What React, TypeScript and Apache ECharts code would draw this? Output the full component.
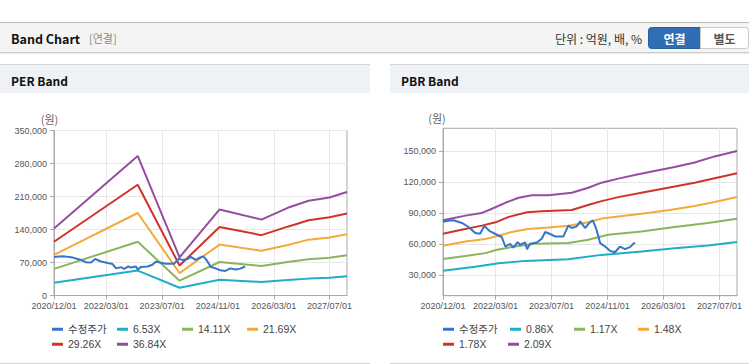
import React, { useEffect, useRef } from 'react';
import * as echarts from 'echarts';

const FONT = "Arial, 'Liberation Sans', 'Noto Sans CJK KR', sans-serif";
const KFONT = "'Noto Sans CJK KR', Arial, 'Liberation Sans', sans-serif";

// ---- axis ----
const xStart = '2020/12/01';
const xEnd = '2027/12/01';
const xTickLabels = ['2020/12/01', '2022/03/01', '2023/07/01', '2024/11/01', '2026/03/01', '2027/07/01'];
const perYMax = 350000;
const perYStep = 70000;
const pbrYMin = 10000;
const pbrYMax = 172000;
const pbrYTicks = [30000, 60000, 90000, 120000, 150000];

// ---- adjusted price (수정주가) ----
const priceDates = ['2020/12/01', '2021/01/15', '2021/03/01', '2021/05/13', '2021/07/10', '2021/09/07', '2021/10/19', '2021/11/25', '2022/01/16', '2022/03/13', '2022/04/25', '2022/05/25', '2022/07/07', '2022/08/04', '2022/09/10', '2022/10/01', '2022/11/16', '2022/12/01', '2022/12/28', '2023/02/25', '2023/04/07', '2023/05/07', '2023/06/19', '2023/08/01', '2023/10/13', '2023/11/25', '2023/12/25', '2024/02/07', '2024/03/07', '2024/04/19', '2024/05/25', '2024/06/25', '2024/07/22', '2024/08/13', '2024/08/28', '2024/10/10', '2024/11/22', '2025/01/04', '2025/02/19', '2025/04/01', '2025/05/13', '2025/06/25'];
const priceValues = [81500, 82500, 83000, 80400, 76500, 70600, 70000, 77500, 72200, 69000, 66800, 57600, 60200, 56600, 61900, 59300, 61500, 55000, 60200, 61500, 65100, 71600, 69700, 67400, 67400, 77800, 75500, 77100, 82000, 75500, 80400, 83000, 75500, 67400, 60900, 57600, 53400, 52100, 57600, 55000, 57000, 61500];

// ---- PER band ----
const perDates = ['2020/12/01', '2022/12/01', '2023/12/01', '2024/11/15', '2025/11/15', '2026/07/01', '2027/01/01', '2027/07/01', '2027/12/01'];
const per653 = [27000, 52800, 16500, 33500, 28800, 32800, 35800, 37500, 41000];
const per1411 = [56400, 114000, 31500, 71000, 62500, 71000, 77000, 80000, 85300];
const per2169 = [86000, 175000, 47500, 108000, 95000, 107000, 118500, 123000, 129700];
const per2926 = [114000, 235000, 63500, 145500, 128000, 146000, 159500, 166000, 174000];
const per3684 = [142300, 296000, 81000, 182500, 161000, 186000, 201000, 208000, 219600];

// ---- PBR band ----
const pbr086: [string, number][] = [['2020/12/01', 34200], ['2021/09/07', 38100], ['2022/03/28', 41400], ['2022/11/16', 43700], ['2023/11/25', 45300], ['2024/09/10', 49500], ['2025/08/22', 52700], ['2026/06/07', 56000], ['2027/03/22', 58600], ['2027/12/01', 62000]];
const pbr117: [string, number][] = [['2020/12/01', 45600], ['2021/06/13', 48500], ['2021/12/04', 51200], ['2022/03/13', 54400], ['2022/08/19', 57600], ['2023/02/10', 60200], ['2023/11/25', 60900], ['2024/05/16', 64100], ['2024/11/07', 69000], ['2025/08/22', 72200], ['2026/06/07', 76500], ['2027/03/22', 80400], ['2027/12/01', 84500]];
const pbr148: [string, number][] = [['2020/12/01', 58300], ['2021/06/13', 62500], ['2021/12/04', 64800], ['2022/03/28', 68000], ['2022/07/19', 71600], ['2022/12/10', 74600], ['2023/06/04', 76100], ['2023/11/25', 77800], ['2024/05/16', 81000], ['2024/09/10', 84600], ['2025/08/22', 89200], ['2026/04/10', 92700], ['2026/11/28', 96800], ['2027/05/19', 100600], ['2027/12/01', 105600]];
const pbr178: [string, number][] = [['2020/12/01', 70000], ['2021/05/10', 73900], ['2021/11/04', 77800], ['2022/03/01', 81000], ['2022/06/25', 86300], ['2022/12/01', 90800], ['2023/04/07', 91700], ['2023/12/25', 93000], ['2024/05/28', 98200], ['2024/09/10', 101500], ['2025/02/04', 105400], ['2025/08/22', 109600], ['2026/04/10', 114500], ['2026/11/28', 119400], ['2027/05/19', 123600], ['2027/12/01', 128500]];
const pbr209: [string, number][] = [['2020/12/01', 83000], ['2021/06/13', 87500], ['2021/11/04', 90100], ['2022/01/16', 93400], ['2022/05/25', 99900], ['2022/09/19', 104800], ['2023/01/13', 107300], ['2023/06/04', 107300], ['2023/12/25', 109600], ['2024/05/16', 114500], ['2024/09/10', 119400], ['2025/02/04', 123300], ['2025/07/25', 127500], ['2026/01/16', 131400], ['2026/06/07', 134600], ['2026/11/28', 138900], ['2027/05/19', 144800], ['2027/12/01', 150000]];

const COLORS = {
  price: '#3674c8',
  c1: '#1eafc6',
  c2: '#8cb45a',
  c3: '#f6a93b',
  c4: '#d0332b',
  c5: '#934f9e',
};

function toM(s: string): number {
  const [y, m, d] = s.split('/').map(Number);
  return (y - 2020) * 12 + (m - 12) + (d - 1) / 30;
}

const xTicks = xTickLabels.map(toM);

function xAxisCfg(gridIndex: number) {
  return {
    type: 'value',
    gridIndex,
    min: toM(xStart),
    max: toM(xEnd),
    axisLine: { show: true, lineStyle: { color: '#aaaaaa' } },
    axisTick: { show: true, length: 4, customValues: xTicks, lineStyle: { color: '#aaaaaa' } },
    axisLabel: {
      customValues: xTicks,
      fontSize: 9,
      color: '#555555',
      fontFamily: FONT,
      margin: 6,
      formatter: (v: number) => {
        let best = 0;
        xTicks.forEach((t, i) => { if (Math.abs(t - v) < Math.abs(xTicks[best] - v)) best = i; });
        return xTickLabels[best];
      },
    },
    splitLine: { show: true, lineStyle: { color: '#e6e6e6' } },
  };
}

const fmt = (v: number) => String(v).replace(/\B(?=(\d{3})+(?!\d))/g, ',');

function lineSeries(name: string, color: string, data: [number, number][], xi: number, z = 2) {
  return {
    type: 'line',
    name,
    xAxisIndex: xi,
    yAxisIndex: xi,
    data,
    showSymbol: false,
    symbol: 'none',
    z,
    lineStyle: { width: 2, color },
    itemStyle: { color },
    emphasis: { disabled: true },
  };
}

const pairs = (dates: string[], vals: number[]): [number, number][] => dates.map((d, i) => [toM(d), vals[i]]);
const tpairs = (arr: [string, number][]): [number, number][] => arr.map(([d, v]) => [toM(d), v]);

function legendItem(name: string, left: number, top: number) {
  return {
    data: [name],
    left,
    top,
    padding: 0,
    itemWidth: 11,
    itemHeight: 3,
    icon: 'rect',
    selectedMode: false,
    textStyle: { fontSize: 10.5, color: '#444444', fontFamily: FONT },
  };
}

export default function App() {
  const ref = useRef<HTMLDivElement>(null);
  useEffect(() => {
    if (!ref.current) return;
    const chart = echarts.init(ref.current, undefined, { renderer: 'svg' });
    const priceData = pairs(priceDates, priceValues);
    const option: any = {
      animation: false,
      backgroundColor: '#ffffff',
      grid: [
        { left: 54, top: 130.5, width: 293, height: 165, show: true, borderColor: '#aaaaaa', borderWidth: 1 },
        { left: 443, top: 128.3, width: 294, height: 167.4, show: true, borderColor: '#aaaaaa', borderWidth: 1 },
      ],
      xAxis: [xAxisCfg(0), xAxisCfg(1)],
      yAxis: [
        {
          type: 'value',
          gridIndex: 0,
          min: 0,
          max: perYMax,
          interval: perYStep,
          axisLine: { show: true, lineStyle: { color: '#aaaaaa' } },
          axisTick: { show: true, length: 4, lineStyle: { color: '#aaaaaa' } },
          axisLabel: { fontSize: 9, color: '#555555', fontFamily: FONT, margin: 7, formatter: fmt },
          splitLine: { show: true, lineStyle: { color: '#e6e6e6' } },
        },
        {
          type: 'value',
          gridIndex: 1,
          min: pbrYMin,
          max: pbrYMax,
          axisLine: { show: true, lineStyle: { color: '#aaaaaa' } },
          axisTick: { show: true, length: 4, customValues: pbrYTicks, lineStyle: { color: '#aaaaaa' } },
          axisLabel: { customValues: pbrYTicks, fontSize: 9, color: '#555555', fontFamily: FONT, margin: 7, formatter: fmt },
          splitLine: { show: true, lineStyle: { color: '#e6e6e6' } },
        },
      ],
      legend: [
        legendItem('수정주가', 52, 324),
        legendItem('6.53X', 117, 324),
        legendItem('14.11X', 182, 324),
        legendItem('21.69X', 247, 324),
        legendItem('29.26X', 52, 339),
        legendItem('36.84X', 117, 339),
        legendItem('수정주가', 443, 324),
        legendItem('0.86X', 510, 324),
        legendItem('1.17X', 574, 324),
        legendItem('1.48X', 638, 324),
        legendItem('1.78X', 443, 339),
        legendItem('2.09X', 508, 339),
      ],
      series: [
        lineSeries('6.53X', COLORS.c1, pairs(perDates, per653), 0),
        lineSeries('14.11X', COLORS.c2, pairs(perDates, per1411), 0),
        lineSeries('21.69X', COLORS.c3, pairs(perDates, per2169), 0),
        lineSeries('29.26X', COLORS.c4, pairs(perDates, per2926), 0),
        lineSeries('36.84X', COLORS.c5, pairs(perDates, per3684), 0),
        lineSeries('수정주가', COLORS.price, priceData, 0, 3),
        lineSeries('0.86X', COLORS.c1, tpairs(pbr086), 1),
        lineSeries('1.17X', COLORS.c2, tpairs(pbr117), 1),
        lineSeries('1.48X', COLORS.c3, tpairs(pbr148), 1),
        lineSeries('1.78X', COLORS.c4, tpairs(pbr178), 1),
        lineSeries('2.09X', COLORS.c5, tpairs(pbr209), 1),
        lineSeries('수정주가', COLORS.price, priceData, 1, 3),
      ],
      graphic: [
        // top bar
        { type: 'rect', shape: { x: 0, y: 22, width: 749, height: 31 }, style: { fill: '#f4f4f4' }, silent: true },
        { type: 'line', shape: { x1: 0, y1: 22.5, x2: 749, y2: 22.5 }, style: { stroke: '#bdbdbd', lineWidth: 1 } },
        { type: 'line', shape: { x1: 0, y1: 52.5, x2: 749, y2: 52.5 }, style: { stroke: '#cccccc', lineWidth: 1 } },
        { type: 'line', shape: { x1: 0, y1: 53.5, x2: 749, y2: 53.5 }, style: { stroke: '#ececec', lineWidth: 1 } },
        { type: 'text', x: 11, y: 38, style: { text: 'Band Chart', fontSize: 12.5, fontWeight: 'bold', fontFamily: KFONT, fill: '#111111', verticalAlign: 'middle' } },
        { type: 'text', x: 89, y: 38, style: { text: '[연결]', fontSize: 11, fontFamily: KFONT, fill: '#8a8a8a', verticalAlign: 'middle' } },
        { type: 'text', x: 642, y: 38, style: { text: '단위 : 억원, 배, %', fontSize: 12, fontFamily: KFONT, fill: '#333333', align: 'right', verticalAlign: 'middle' } },
        { type: 'rect', shape: { x: 648.5, y: 27.5, width: 52, height: 21, r: [3, 0, 0, 3] }, style: { fill: '#2f6eb4', stroke: '#285f9f', lineWidth: 1 } },
        { type: 'text', x: 674.5, y: 38, style: { text: '연결', fontSize: 12, fontWeight: 'bold', fontFamily: KFONT, fill: '#ffffff', align: 'center', verticalAlign: 'middle' } },
        { type: 'rect', shape: { x: 700.5, y: 27.5, width: 48, height: 21, r: [0, 3, 3, 0] }, style: { fill: '#ffffff', stroke: '#c8c8c8', lineWidth: 1 } },
        { type: 'text', x: 724.5, y: 38, style: { text: '별도', fontSize: 12, fontWeight: 'bold', fontFamily: KFONT, fill: '#555555', align: 'center', verticalAlign: 'middle' } },
        // panel headers
        { type: 'rect', shape: { x: 0, y: 64, width: 370, height: 29 }, style: { fill: '#eef2f7' } },
        { type: 'line', shape: { x1: 0, y1: 64.5, x2: 370, y2: 64.5 }, style: { stroke: '#d6d6d6', lineWidth: 1 } },
        { type: 'text', x: 11, y: 80.5, style: { text: 'PER Band', fontSize: 12, fontWeight: 'bold', fontFamily: KFONT, fill: '#111111', verticalAlign: 'middle' } },
        { type: 'rect', shape: { x: 390, y: 64, width: 359, height: 29 }, style: { fill: '#eef2f7' } },
        { type: 'line', shape: { x1: 390, y1: 64.5, x2: 749, y2: 64.5 }, style: { stroke: '#d6d6d6', lineWidth: 1 } },
        { type: 'text', x: 401, y: 80.5, style: { text: 'PBR Band', fontSize: 12, fontWeight: 'bold', fontFamily: KFONT, fill: '#111111', verticalAlign: 'middle' } },
        // bottom lines
        { type: 'line', shape: { x1: 0, y1: 363.5, x2: 370, y2: 363.5 }, style: { stroke: '#d6d6d6', lineWidth: 1 } },
        { type: 'line', shape: { x1: 390, y1: 363.5, x2: 749, y2: 363.5 }, style: { stroke: '#d6d6d6', lineWidth: 1 } },
        // units
        { type: 'text', x: 49.5, y: 118.7, style: { text: '(원)', fontSize: 11, fontFamily: KFONT, fill: '#666666', align: 'center', verticalAlign: 'middle' } },
        { type: 'text', x: 437, y: 118.3, style: { text: '(원)', fontSize: 11, fontFamily: KFONT, fill: '#666666', align: 'center', verticalAlign: 'middle' } },
      ],
    };
    chart.setOption(option);
    return () => chart.dispose();
  }, []);
  return (
    <div
      ref={ref}
      style={{ position: 'fixed', left: 0, top: 0, width: 749, height: 364, background: '#ffffff' }}
    />
  );
}
